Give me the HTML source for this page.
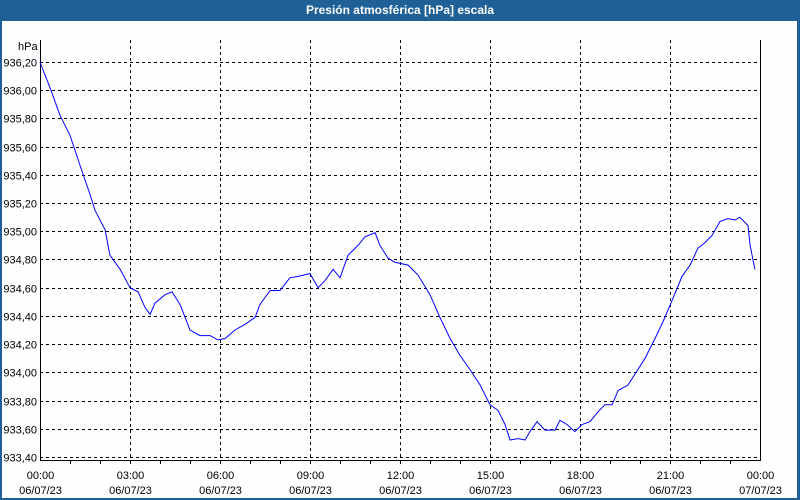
<!DOCTYPE html>
<html><head><meta charset="utf-8">
<style>
html,body{margin:0;padding:0;background:#fff}
#wrap{position:relative;width:800px;height:500px;background:#fdfeff;overflow:hidden;font-family:"Liberation Sans",sans-serif}
#title{position:absolute;left:0;top:0;width:800px;height:21px;background:#1f6097;color:#fff;font-weight:bold;font-size:12px;text-align:center;line-height:21px}
svg{position:absolute;left:0;top:0}
text{font-family:"Liberation Sans",sans-serif;font-size:11px;fill:#000}
</style></head><body>
<div id="wrap">
<div id="title">Presión atmosférica [hPa] escala</div>
<svg id="chart" width="800" height="500">
<rect x="0" y="21" width="2" height="479" fill="#1f6097"/>
<rect x="797" y="21" width="3" height="479" fill="#1f6097"/>
<rect x="0" y="498" width="800" height="2" fill="#1f6097"/>
<text x="18" y="50">hPa</text>
<g id="grid"></g><g id="axes"></g>
<path id="line" fill="none" stroke="#0000ff" stroke-width="1"/>
</svg>
</div>
<script>
const hours=[0,0.33,0.67,1.0,1.33,1.67,1.83,2.17,2.33,2.67,3.0,3.27,3.5,3.67,3.83,4.17,4.4,4.67,5.0,5.33,5.67,5.93,6.17,6.5,6.83,7.17,7.33,7.67,8.0,8.33,8.6,9.0,9.27,9.5,9.77,10.0,10.27,10.6,10.83,11.17,11.33,11.6,11.83,12.27,12.6,13.0,13.33,13.67,14.0,14.33,14.67,15.0,15.27,15.5,15.67,15.93,16.17,16.33,16.57,16.83,17.17,17.33,17.57,17.83,18.07,18.33,18.6,18.83,19.07,19.27,19.6,19.93,20.17,20.5,20.77,21.07,21.4,21.67,21.93,22.17,22.4,22.67,22.93,23.17,23.33,23.6,23.67,23.83];
const pressure=[936.20,936.02,935.82,935.68,935.47,935.26,935.15,935.01,934.83,934.73,934.60,934.57,934.46,934.41,934.49,934.55,934.57,934.48,934.30,934.26,934.26,934.23,934.24,934.30,934.34,934.39,934.48,934.58,934.58,934.67,934.68,934.70,934.60,934.65,934.73,934.67,934.83,934.90,934.96,934.99,934.90,934.81,934.78,934.76,934.69,934.55,934.39,934.24,934.12,934.02,933.91,933.77,933.73,933.63,933.52,933.53,933.52,933.58,933.65,933.59,933.59,933.66,933.63,933.58,933.63,933.65,933.72,933.77,933.77,933.87,933.91,934.02,934.10,934.24,934.36,934.51,934.68,934.76,934.88,934.92,934.97,935.07,935.09,935.08,935.10,935.04,934.90,934.73];
const yTicks=[936.20,936.00,935.80,935.60,935.40,935.20,935.00,934.80,934.60,934.40,934.20,934.00,933.80,933.60,933.40];
const xTickHours=[0,3,6,9,12,15,18,21,24];
const xTickTimes=["00:00","03:00","06:00","09:00","12:00","15:00","18:00","21:00","00:00"];
const xTickDates=["06/07/23","06/07/23","06/07/23","06/07/23","06/07/23","06/07/23","06/07/23","06/07/23","07/07/23"];

const L=40,R=760,T=40,B=460;
const xs=h=>L+(h/24)*(R-L);
const ys=v=>62+(936.2-v)/0.2*28.21;
const NS="http://www.w3.org/2000/svg";
const grid=document.getElementById('grid'),axes=document.getElementById('axes');
function mk(tag,attrs,parent){const e=document.createElementNS(NS,tag);for(const k in attrs)e.setAttribute(k,attrs[k]);parent.appendChild(e);return e;}
yTicks.forEach(v=>{
  const y=Math.round(ys(v))+0.5;
  const g=mk('line',{x1:L,x2:R,y1:y,y2:y,stroke:'#000','stroke-dasharray':'3,3'},grid);
  
  
  const t=mk('text',{x:L-3,y:y+4,'text-anchor':'end'},axes);
  t.textContent=v.toFixed(2).replace('.',',');
  
  
});
for(let h=1;h<24;h++){
  const x=Math.round(xs(h))+0.5;
  const tk=mk('line',{x1:x,x2:x,y1:B,y2:B+4,stroke:'#000'},axes);
  
  
}
xTickHours.forEach((h,i)=>{
  const x=Math.round(xs(h))+0.5;
  if(h>0&&h<24){
    const g=mk('line',{x1:x,x2:x,y1:T,y2:B,stroke:'#000','stroke-dasharray':'3,3'},grid);
    
    
  }
  const t=mk('text',{x:x,y:479,'text-anchor':'middle'},axes);
  t.textContent=xTickTimes[i];
  
  
  const d=mk('text',{x:x,y:494,'text-anchor':'middle'},axes);
  d.textContent=xTickDates[i];
  
  
});
const fr=mk('path',{d:`M${L+0.5},${T} V${B+0.5} H${R+0.5} V${T}`,fill:'none',stroke:'#000'},axes);


document.getElementById('line').setAttribute('d',hours.map((h,i)=>(i?'L':'M')+xs(h).toFixed(1)+','+ys(pressure[i]).toFixed(1)).join(' '));
</script>
</body></html>
